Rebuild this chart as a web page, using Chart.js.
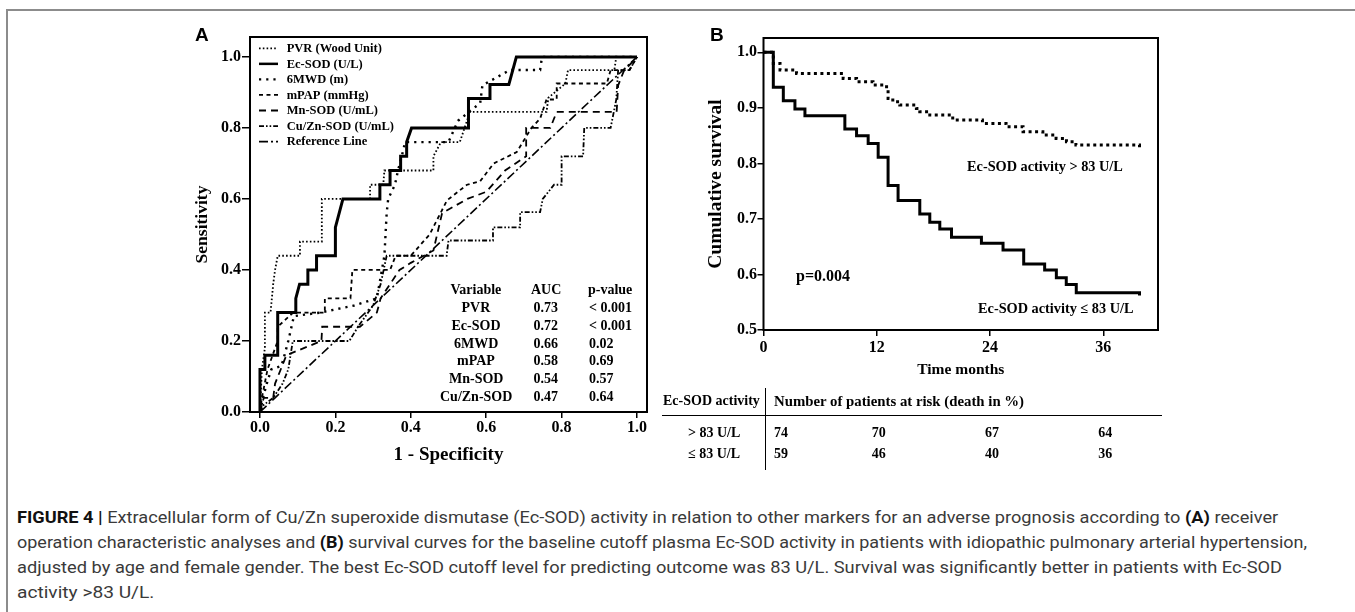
<!DOCTYPE html>
<html><head><meta charset="utf-8">
<script src="https://cdn.jsdelivr.net/npm/chart.js@4.4.1/dist/chart.umd.min.js"></script>
<style>
html,body{margin:0;padding:0;background:#fff;}
body{width:1355px;height:612px;position:relative;overflow:hidden;}
.abs{position:absolute;white-space:nowrap;}
.serif{font-family:"Liberation Serif","Times New Roman",serif;font-weight:bold;color:#000;}
.plabel{font-family:"Liberation Sans",Arial,sans-serif;font-weight:bold;color:#000;}
.cap{font-family:Roboto,"Liberation Sans",sans-serif;color:#3a3a3a;transform-origin:0 50%;}
.cap b{color:#111;font-weight:bold;}
.box{position:absolute;}
</style></head><body>
<div class="abs" style="left:7px;top:9px;width:1348px;height:0;border-top:2px solid #8c8c8c"></div>
<div class="abs" style="left:6px;top:9px;width:0;height:603px;border-left:2px solid #8c8c8c"></div>
<div class="box" style="left:150px;top:0;width:520px;height:470px"><canvas id="roc"></canvas></div>
<div class="box" style="left:660px;top:0;width:520px;height:390px"><canvas id="km"></canvas></div>
<div class="abs" style="left:662px;top:415px;width:500px;height:0;border-top:1.5px solid #000"></div>
<div class="abs" style="left:765px;top:388px;width:0;height:82px;border-left:1.5px solid #000"></div>
<script>
// ---------- DATA: panel A (ROC curves, [1-specificity, sensitivity]) ----------
const rocTicks = [0, 0.2, 0.4, 0.6, 0.8, 1.0];
const pvrPts = [[0,0],[0.005,0.12],[0.013,0.18],[0.013,0.28],[0.028,0.28],[0.035,0.36],[0.04,0.40],[0.047,0.44],[0.106,0.44],[0.106,0.48],[0.164,0.48],[0.164,0.60],[0.292,0.60],[0.292,0.64],[0.327,0.64],[0.33,0.68],[0.46,0.68],[0.46,0.72],[0.48,0.76],[0.53,0.76],[0.557,0.845],[0.76,0.845],[0.765,0.885],[0.81,0.925],[0.817,0.963],[0.94,0.963],[0.945,1.0],[1,1]];
const ecsodPts = [[0,0],[0,0.12],[0.013,0.12],[0.013,0.16],[0.047,0.16],[0.047,0.28],[0.095,0.28],[0.095,0.32],[0.105,0.36],[0.127,0.36],[0.127,0.40],[0.15,0.40],[0.15,0.44],[0.2,0.44],[0.2,0.52],[0.22,0.60],[0.318,0.60],[0.318,0.64],[0.345,0.64],[0.345,0.68],[0.373,0.68],[0.373,0.72],[0.389,0.72],[0.389,0.76],[0.402,0.80],[0.553,0.80],[0.553,0.883],[0.61,0.883],[0.61,0.922],[0.66,0.922],[0.68,1.0],[1,1]];
const mwdPts = [[0,0],[0.008,0.04],[0.018,0.08],[0.03,0.12],[0.057,0.13],[0.065,0.16],[0.075,0.20],[0.09,0.27],[0.16,0.28],[0.25,0.30],[0.31,0.32],[0.33,0.44],[0.336,0.56],[0.34,0.60],[0.358,0.64],[0.366,0.68],[0.376,0.72],[0.385,0.76],[0.50,0.76],[0.525,0.82],[0.584,0.87],[0.59,0.92],[0.663,0.963],[0.743,0.963],[0.748,1.0],[1,1]];
const mpapPts = [[0,0],[0.005,0.04],[0.02,0.12],[0.047,0.20],[0.047,0.24],[0.088,0.28],[0.172,0.28],[0.172,0.32],[0.24,0.32],[0.245,0.40],[0.345,0.40],[0.36,0.44],[0.40,0.44],[0.45,0.50],[0.496,0.596],[0.549,0.64],[0.584,0.65],[0.62,0.70],[0.681,0.732],[0.72,0.80],[0.743,0.826],[0.76,0.88],[0.787,0.88],[0.787,0.925],[0.92,0.925],[0.93,0.963],[0.98,0.963],[1,1]];
const mnsodPts = [[0,0],[0.01,0.04],[0.035,0.04],[0.04,0.08],[0.07,0.16],[0.163,0.20],[0.165,0.24],[0.265,0.24],[0.31,0.28],[0.32,0.32],[0.345,0.36],[0.37,0.40],[0.40,0.42],[0.46,0.455],[0.483,0.56],[0.55,0.60],[0.60,0.62],[0.65,0.68],[0.706,0.72],[0.706,0.80],[0.77,0.80],[0.787,0.845],[0.946,0.845],[0.95,0.92],[0.965,0.96],[1,1]];
const cuznPts = [[0,0],[0.01,0.02],[0.035,0.04],[0.06,0.08],[0.075,0.12],[0.087,0.20],[0.237,0.20],[0.26,0.24],[0.30,0.30],[0.32,0.36],[0.336,0.44],[0.495,0.44],[0.5,0.483],[0.618,0.483],[0.618,0.52],[0.69,0.52],[0.69,0.563],[0.743,0.563],[0.75,0.60],[0.78,0.64],[0.80,0.64],[0.80,0.72],[0.857,0.72],[0.86,0.80],[0.93,0.80],[0.945,0.88],[0.95,0.963],[0.98,0.963],[1,1]];
const refPts = [[0,0],[1,1]];
const rocNames = ['PVR (Wood Unit)','Ec-SOD (U/L)','6MWD (m)','mPAP (mmHg)','Mn-SOD (U/mL)','Cu/Zn-SOD (U/mL)','Reference Line'];
// AUC table
const aucHeader = ['Variable','AUC','p-value'];
const aucVars = ['PVR','Ec-SOD','6MWD','mPAP','Mn-SOD','Cu/Zn-SOD'];
const aucValues = [0.73,0.72,0.66,0.58,0.54,0.47];
const aucP = ['< 0.001','< 0.001','0.02','0.69','0.57','0.64'];

// ---------- DATA: panel B (Kaplan-Meier) ----------
const kmXTicks = [0,12,24,36];
const kmYTicks = [0.5,0.6,0.7,0.8,0.9,1.0];
const kmTimesHigh = [0,1.04,1.75,3.5,8.44,9.86,11.6,13.04,13.2,13.7,14.44,16.2,16.56,17.62,20.05,23.2,25.7,27.5,29.6,31.0,32.1,33.1,39.84];
const kmSurvHigh  = [1.0,0.98,0.968,0.962,0.953,0.947,0.941,0.932,0.917,0.911,0.905,0.899,0.893,0.887,0.878,0.872,0.866,0.857,0.851,0.845,0.839,0.833,0.829];
const kmTimesLow = [0,1.04,2.1,3.33,4.39,8.62,9.86,11.09,12.15,13.2,14.26,16.56,17.62,18.68,19.92,23.09,25.38,27.57,29.79,31.03,32.08,33.14,39.84];
const kmSurvLow  = [1.0,0.937,0.913,0.898,0.886,0.862,0.85,0.836,0.811,0.76,0.733,0.709,0.694,0.682,0.667,0.656,0.644,0.619,0.608,0.594,0.582,0.567,0.562];
const kmGroupLabels = ['Ec-SOD activity > 83 U/L','Ec-SOD activity \u2264 83 U/L'];
const pValueText = 'p=0.004';
// risk table
const riskHeaderLeft = 'Ec-SOD activity';
const riskHeaderRight = 'Number of patients at risk (death in %)';
const riskGroups = ['> 83 U/L','\u2264 83 U/L'];
const riskHigh = [74,70,67,64];
const riskLow = [59,46,40,36];

// ---------- helpers ----------
const SERIF = '"Liberation Serif","Times New Roman",serif';
Chart.defaults.font.family = SERIF;
Chart.defaults.font.weight = 'bold';
Chart.defaults.color = '#000';
Chart.defaults.animation = false;

function toXY(arr){ return arr.map(p => ({x:p[0], y:p[1]})); }
function zipXY(xs, ys){ return xs.map((x,i)=>({x:x, y:ys[i]})); }
function addText(html, x, cy, size, align, cls){
  const d = document.createElement('div');
  d.className = 'abs ' + (cls || 'serif');
  d.style.fontSize = size + 'px';
  d.style.lineHeight = '20px';
  d.style.top = (cy - 10) + 'px';
  d.innerHTML = html;
  document.body.appendChild(d);
  const w = d.offsetWidth;
  d.style.left = (align === 'center' ? x - w/2 : align === 'right' ? x - w : x) + 'px';
  return d;
}

const boxPlugin = {
  id:'boxFrame',
  afterDraw(chart){
    const a = chart.chartArea, c = chart.ctx;
    c.save(); c.strokeStyle='#000'; c.lineWidth=2; c.setLineDash([]);
    c.strokeRect(a.left, a.top, a.right-a.left, a.bottom-a.top);
    c.restore();
  }
};
const rocLegendPlugin = {
  id:'rocLegend',
  afterDatasetsDraw(chart){
    const c = chart.ctx, a = chart.chartArea;
    c.save();
    rocNames.forEach((name,i)=>{
      const ds = chart.data.datasets.find(d=>d.label===name);
      const y = a.top + 11.3 + i*15.55;
      c.beginPath();
      c.setLineDash(ds.borderDash || []);
      c.lineWidth = Math.min(ds.borderWidth, 2.5);
      c.strokeStyle = '#000';
      c.moveTo(a.left + 9, y); c.lineTo(a.left + 28, y); c.stroke();
      c.setLineDash([]);
      c.font = 'bold 12.5px ' + SERIF;
      c.fillStyle = '#000'; c.textBaseline = 'middle'; c.textAlign = 'left';
      c.fillText(name, a.left + 36.7, y + 0.5);
    });
    c.restore();
  }
};

function tickAxis(opts){
  return Object.assign({
    type:'linear',
    grid:{display:true, drawOnChartArea:false, drawTicks:true, tickLength:6, color:'#000', lineWidth:1.5},
    border:{display:false},
  }, opts);
}

// ---------- Panel A ----------
const lineBase = {showLine:true, pointRadius:0, pointHoverRadius:0, tension:0, fill:false, borderColor:'#000', backgroundColor:'#000', borderCapStyle:'butt'};
const rocDatasets = [
  Object.assign({label:rocNames[6], data:toXY(refPts), borderWidth:1.6, borderDash:[9,3,2,3]}, lineBase),
  Object.assign({label:rocNames[5], data:toXY(cuznPts), borderWidth:1.8, borderDash:[5,2,1.6,2,1.6,2]}, lineBase),
  Object.assign({label:rocNames[4], data:toXY(mnsodPts), borderWidth:1.8, borderDash:[7,5]}, lineBase),
  Object.assign({label:rocNames[3], data:toXY(mpapPts), borderWidth:1.8, borderDash:[4,3.5]}, lineBase),
  Object.assign({label:rocNames[2], data:toXY(mwdPts), borderWidth:2.4, borderDash:[2.2,5]}, lineBase),
  Object.assign({label:rocNames[0], data:toXY(pvrPts), borderWidth:1.8, borderDash:[1.6,2.2]}, lineBase),
  Object.assign({label:rocNames[1], data:toXY(ecsodPts), borderWidth:3}, lineBase),
];
new Chart(document.getElementById('roc'), {
  type:'scatter',
  data:{datasets:rocDatasets},
  options:{
    responsive:true, maintainAspectRatio:false, animation:false,
    layout:{padding:{top:37,right:23,left:0,bottom:0}},
    plugins:{legend:{display:false}, tooltip:{enabled:false}},
    scales:{
      x: tickAxis({min:-0.0265, max:1.0265,
        afterBuildTicks(s){ s.ticks = rocTicks.map(v=>({value:v})); },
        afterFit(s){ s.height = 58; },
        ticks:{font:{size:16,weight:'bold'}, padding:0.5, autoSkip:false, maxRotation:0, callback:v=>Number(v).toFixed(1)},
        title:{display:true, text:'1 - Specificity', font:{size:19,weight:'bold'}, padding:{top:0,bottom:3.6}}
      }),
      y: tickAxis({min:0, max:1.056,
        grid:{display:true, drawOnChartArea:false, drawTicks:true, tickLength:8, color:'#000', lineWidth:1.5},
        afterBuildTicks(s){ s.ticks = rocTicks.map(v=>({value:v})); },
        afterFit(s){ s.width = 100; },
        ticks:{font:{size:16,weight:'bold'}, padding:1, autoSkip:false, callback:v=>Number(v).toFixed(1)},
        title:{display:true, text:'Sensitivity', font:{size:17.5,weight:'bold'}, padding:{top:41.5,bottom:0}}
      })
    }
  },
  plugins:[boxPlugin, rocLegendPlugin]
});

// ---------- Panel B ----------
const kmChart = new Chart(document.getElementById('km'), {
  type:'scatter',
  data:{datasets:[
    Object.assign({label:kmGroupLabels[0], data:zipXY(kmTimesHigh,kmSurvHigh), stepped:true, borderWidth:3, borderDash:[3,3.5]}, lineBase),
    Object.assign({label:kmGroupLabels[1], data:zipXY(kmTimesLow,kmSurvLow), stepped:true, borderWidth:3}, lineBase),
  ]},
  options:{
    responsive:true, maintainAspectRatio:false, animation:false,
    layout:{padding:{top:38,right:22,left:0,bottom:0}},
    plugins:{legend:{display:false}, tooltip:{enabled:false}},
    scales:{
      x: tickAxis({min:0, max:41.8,
        afterBuildTicks(s){ s.ticks = kmXTicks.map(v=>({value:v})); },
        afterFit(s){ s.height = 60; },
        ticks:{font:{size:16,weight:'bold'}, padding:2.4, autoSkip:false, maxRotation:0, callback:v=>String(v)},
        title:{display:true, text:'Time months', font:{size:15.5,weight:'bold'}, padding:{top:0,bottom:10.7}}
      }),
      y: tickAxis({min:0.5, max:1.0258,
        afterBuildTicks(s){ s.ticks = kmYTicks.map(v=>({value:v})); },
        afterFit(s){ s.width = 103.5; },
        ticks:{font:{size:16,weight:'bold'}, padding:0.5, autoSkip:false, callback:v=>Number(v).toFixed(1)},
        title:{display:true, text:'Cumulative survival', font:{size:19.5,weight:'bold'}, padding:{top:44.3,bottom:0}}
      })
    }
  },
  plugins:[boxPlugin]
});

// ---------- text overlays ----------
addText('A', 195, 34.5, 19, 'left', 'plabel');
addText('B', 710, 35, 19, 'left', 'plabel');

// AUC table in panel A
const colVar = 476, colAuc = 546, colP = 589, rowY0 = 290, rowStep = 17.85;
addText(aucHeader[0], colVar, rowY0, 14, 'center');
addText(aucHeader[1], colAuc, rowY0, 14, 'center');
addText(aucHeader[2], colP - 1, rowY0, 14, 'left');
aucVars.forEach((v,i)=>{
  const y = rowY0 + (i+1)*rowStep;
  addText(v, colVar, y, 14, 'center');
  addText(aucValues[i].toFixed(2), colAuc, y, 14, 'center');
  addText(aucP[i], colP, y, 14, 'left');
});

// panel B annotations
addText(pValueText, 796, 276, 16, 'left');
addText(kmGroupLabels[0].replace('>', '&gt;'), 967, 166, 14.3, 'left');
addText(kmGroupLabels[1], 978, 308, 14.3, 'left');

// risk table
const xs = kmChart.scales.x;
const kmLeft = 660;
addText(riskHeaderLeft, 663, 401, 14, 'left');
addText(riskHeaderRight, 774, 401, 14.8, 'left');
[riskHigh, riskLow].forEach((row, r)=>{
  const y = r === 0 ? 433 : 454;
  addText(riskGroups[r].replace('>', '&gt;'), 714, y, 14, 'center');
  row.forEach((n, i)=>{
    if (i === 0) addText(String(n), 774, y, 14, 'left');
    else addText(String(n), kmLeft + xs.getPixelForValue(kmXTicks[i]) + 2, y, 14, 'center');
  });
});

// caption
const captionLines = [
  '<b>FIGURE 4 |</b> Extracellular form of Cu/Zn superoxide dismutase (Ec-SOD) activity in relation to other markers for an adverse prognosis according to <b>(A)</b> receiver',
  'operation characteristic analyses and <b>(B)</b> survival curves for the baseline cutoff plasma Ec-SOD activity in patients with idiopathic pulmonary arterial hypertension,',
  'adjusted by age and female gender. The best Ec-SOD cutoff level for predicting outcome was 83 U/L. Survival was significantly better in patients with Ec-SOD',
  'activity &gt;83 U/L.'
];
const captionWidths = [1261, 1290, 1265, 137];
captionLines.forEach((html, i)=>{
  const d = addText(html, 17, 517.5 + i*25, 16.5, 'left', 'cap');
  const w = d.offsetWidth;
  d.style.transform = 'scaleX(' + (captionWidths[i]/w) + ')';
});
</script>
</body></html>
